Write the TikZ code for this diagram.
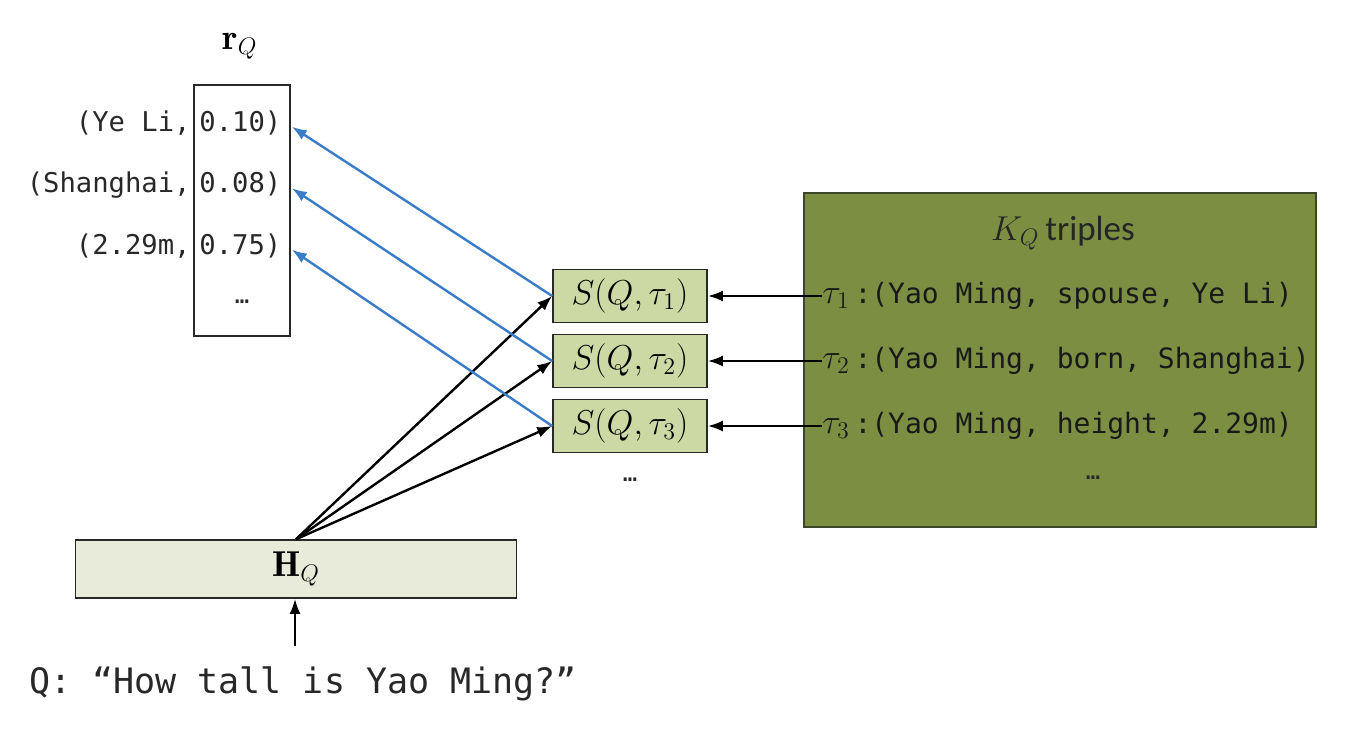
\documentclass[tikz,border=0pt]{standalone}
\usepackage{fontspec}
\usetikzlibrary{arrows.meta,positioning,calc}
\newfontfamily\codefont{DejaVu Sans Mono}
\newfontfamily\labelfont{Carlito}
\definecolor{scorefill}{RGB}{205,217,165}
\definecolor{hidfill}{RGB}{232,235,218}
\definecolor{kbfill}{RGB}{123,142,66}
\definecolor{kbedge}{RGB}{60,70,40}
\definecolor{attn}{RGB}{58,124,200}
\definecolor{ink}{RGB}{40,40,40}
\tikzset{
  >={Latex[length=7.5pt,width=5.5pt]},
  vec box/.style={draw=ink,thick,fill=#1,minimum width=48pt,minimum height=125.5pt},
  vec box/.default=white,
  score box/.style={draw=ink,thick,fill=scorefill,minimum width=77pt,minimum height=26.5pt,
    inner sep=0pt,font=\fontsize{18}{20}\selectfont},
  kb box/.style={draw=kbedge,thick,fill=kbfill,minimum width=256pt,minimum height=167pt},
  hid box/.style={draw=ink,thick,fill=hidfill,minimum width=220.5pt,minimum height=29pt,
    font=\fontsize{18}{20}\selectfont},
  code/.style={font=\codefont\fontsize{13.6}{16}\selectfont,text=ink,inner sep=0pt},
  triple/.style={font=\codefont\fontsize{14}{16}\selectfont,text=black!90,inner sep=0pt},
  dots/.style={font=\codefont\fontsize{12}{14}\selectfont,text=ink},
  flow/.style={->,line width=1.2pt,draw=#1},
  flow/.default=black,
}
\newcommand{\tauof}[1]{{\fontsize{18}{20}\selectfont$\tau_{#1}$}}
\begin{document}
\begin{tikzpicture}[x=0.5pt,y=-0.5pt]
  \useasboundingbox (0,0) rectangle (1354,729);
  % answer vector r_Q
  \node[font=\fontsize{18}{20}\selectfont] (rqlab) at (240,46) {$\mathbf{r}_Q$};
  \node[vec box] (rq) at (242,210.5) {};
  \foreach \ent/\val [count=\i] in {{(Ye Li,}/0.10, {(Shanghai,}/0.08, {(2.29m,}/0.75}{
    \node[code,anchor=base east] (e\i) at (191,{131+(\i-1)*61.5}) {\ent};
    \node[code,anchor=base west] (v\i) at (199,{131+(\i-1)*61.5}) {\val)};
  }
  \node[dots] (rqdots) at (242,302) {\ldots};
  % scores
  \node[score box] (s1) at (630,296) {$S(Q,\tau_1)$};
  \node[score box] (s2) at (630,361) {$S(Q,\tau_2)$};
  \node[score box] (s3) at (630,426) {$S(Q,\tau_3)$};
  \node[dots] (sdots) at (630,480) {\ldots};
  % knowledge base
  \node[kb box] (kb) at (1060,360) {};
  \node[font=\fontsize{17.5}{20}\selectfont,text=black!85] (kblab) at (1063,233)
    {$K_Q$\,{\labelfont triples}};
  \node[triple,anchor=west] (t1) at (822,296) {\tauof{1}\,:(Yao Ming, spouse, Ye Li)};
  \node[triple,anchor=west] (t2) at (822,361) {\tauof{2}\,:(Yao Ming, born, Shanghai)};
  \node[triple,anchor=west] (t3) at (822,426) {\tauof{3}\,:(Yao Ming, height, 2.29m)};
  \node[dots] (kbdots) at (1093,478) {\ldots};
  % question encoding
  \node[hid box] (hq) at (296,569) {$\mathbf{H}_Q$};
  \node[font=\codefont\fontsize{17.5}{20}\selectfont,text=ink] (q) at (303,684)
    {Q: “How tall is Yao Ming?”};
  \draw[flow] (q.north) ++(-8,-14) coordinate (qtop) -- (qtop |- hq.south);
  % connectors
  \foreach \i in {1,2,3}{
    \draw[flow] (t\i.west |- s\i.east) -- (s\i.east);
    \draw[flow] (hq.north) -- (s\i.west);
    \draw[flow=attn] (s\i.west) -- ($(rq.east |- v\i.mid)+(1,0)$);
  }
\end{tikzpicture}
\end{document}
